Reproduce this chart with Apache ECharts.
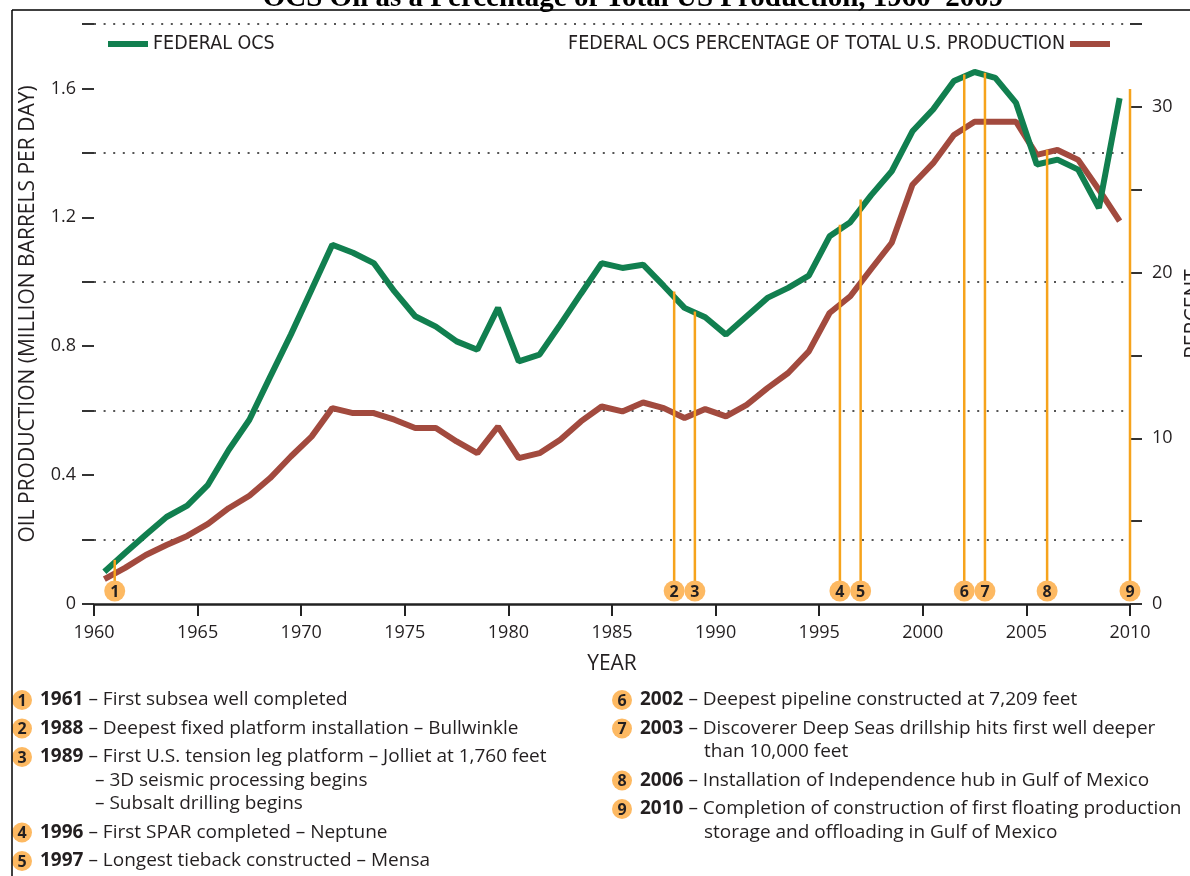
<!DOCTYPE html>
<html><head><meta charset="utf-8">
<script src="https://cdn.jsdelivr.net/npm/echarts@6/dist/echarts.min.js"></script>
<style>html,body{margin:0;padding:0;background:#fff}#c{width:1190px;height:876px}</style>
</head><body><div id="c"></div>
<script>
// ---- data ----
const years = [1960,1961,1962,1963,1964,1965,1966,1967,1968,1969,
               1970,1971,1972,1973,1974,1975,1976,1977,1978,1979,
               1980,1981,1982,1983,1984,1985,1986,1987,1988,1989,
               1990,1991,1992,1993,1994,1995,1996,1997,1998,1999,
               2000,2001,2002,2003,2004,2005,2006,2007,2008,2009];
// Federal OCS oil production, million barrels per day
const federalOcs = [0.10,0.158,0.215,0.27,0.305,0.37,0.478,0.572,0.705,0.836,
                    0.975,1.115,1.09,1.058,0.97,0.893,0.861,0.815,0.789,0.919,
                    0.753,0.774,0.867,0.963,1.058,1.043,1.053,0.987,0.919,0.89,
                    0.836,0.893,0.95,0.981,1.019,1.141,1.185,1.268,1.343,1.467,
                    1.535,1.623,1.651,1.633,1.555,1.364,1.379,1.348,1.229,1.57];
// Federal OCS percentage of total U.S. production
const ocsPercent = [1.5,2.18,2.96,3.56,4.11,4.83,5.78,6.53,7.6,8.9,
                    10.1,11.82,11.52,11.52,11.12,10.62,10.62,9.81,9.11,10.71,
                    8.8,9.1,9.91,11.02,11.92,11.62,12.16,11.82,11.22,11.76,
                    11.32,12.02,13.03,13.94,15.24,17.56,18.57,20.2,21.8,25.3,
                    26.6,28.3,29.1,29.1,29.1,27.1,27.4,26.8,25.0,23.1];
const leftTickLabels = ['0','0.4','0.8','1.2','1.6'];
const rightTickLabels = ['0','10','20','30'];
// milestones
const eventYears = [1961,1988,1989,1996,1997,2002,2003,2006,2010];
const eventTops  = [0.137,0.97,0.908,1.177,1.255,1.643,1.649,1.41,1.598];
const eventTexts = [
  ['First subsea well completed'],
  ['Deepest fixed platform installation – Bullwinkle'],
  ['First U.S. tension leg platform – Jolliet at 1,760 feet','– 3D seismic processing begins','– Subsalt drilling begins'],
  ['First SPAR completed – Neptune'],
  ['Longest tieback constructed – Mensa'],
  ['Deepest pipeline constructed at 7,209 feet'],
  ['Discoverer Deep Seas drillship hits first well deeper','than 10,000 feet'],
  ['Installation of Independence hub in Gulf of Mexico'],
  ['Completion of construction of first floating production','storage and offloading in Gulf of Mexico']
];
const titleText = 'OCS Oil as a Percentage of Total US Production, 1960–2009';
const nameGreen = 'FEDERAL OCS';
const nameBrown = 'FEDERAL OCS PERCENTAGE OF TOTAL U.S. PRODUCTION';

// ---- styles ----
const SANS = '"Open Sans", "Noto Sans", sans-serif';
const NARROW = '"Liberation Sans Narrow", "DejaVu Sans Condensed", sans-serif';
const GREEN = '#117F4F', BROWN = '#A24A3E', ORANGE = '#F6A31C', DOT = '#FDB962', INK = '#231F20';
const AFONT = 19;

const chart = echarts.init(document.getElementById('c'), null, {renderer:'canvas'});

const graphics = [
  {type:'line', shape:{x1:12,y1:10,x2:1190,y2:10}, style:{stroke:'#000', lineWidth:1.5}, z:10},
  {type:'line', shape:{x1:12,y1:10,x2:12,y2:876}, style:{stroke:'#000', lineWidth:1.5}, z:10},
  {type:'text', style:{text:titleText, x:633, y:13, textAlign:'center', textVerticalAlign:'bottom',
    font:'bold 29px "Liberation Serif", "Times New Roman", serif', fill:'#000'}, z:9}
];
const cols = [{cx:22, tx:40, cont:95, y:700}, {cx:622, tx:640, cont:704, y:700}];
eventYears.forEach((yr, i) => {
  const col = i < 5 ? cols[0] : cols[1];
  const lines = eventTexts[i];
  graphics.push({type:'circle', shape:{cx:col.cx, cy:col.y, r:10}, style:{fill:DOT}});
  graphics.push({type:'text', style:{text:String(i+1), x:col.cx, y:col.y+1, textAlign:'center', textVerticalAlign:'middle',
    font:'bold 16px ' + SANS, fill:INK}});
  graphics.push({type:'text', style:{text:'{b|' + yr + '} – ' + lines[0], x:col.tx, y:col.y, textVerticalAlign:'middle',
    font:AFONT + 'px ' + SANS, fill:INK, rich:{b:{fontWeight:'bold', fontSize:AFONT, fontFamily:SANS, fill:INK, color:INK}}}});
  for (let k = 1; k < lines.length; k++) {
    col.y += 23.5;
    graphics.push({type:'text', style:{text:lines[k], x:col.cont, y:col.y, textVerticalAlign:'middle',
      font:AFONT + 'px ' + SANS, fill:INK}});
  }
  col.y += 28.5;
});

chart.setOption({
  animation:false,
  backgroundColor:'#fff',
  grid:{left:94, right:60, top:24, bottom:272, containLabel:false, outerBoundsMode:'none'},
  legend:[
    {data:[nameGreen], left:108, top:34, padding:0, icon:'rect', itemWidth:40, itemHeight:6,
      textStyle:{fontFamily:NARROW, fontSize:19.5, color:INK}},
    {data:[nameBrown], right:80, top:34, padding:0, align:'right', icon:'rect', itemWidth:40, itemHeight:6,
      textStyle:{fontFamily:NARROW, fontSize:19.5, color:INK}}
  ],
  xAxis:{type:'value', min:1960, max:2010, interval:5,
    name:'YEAR', nameLocation:'middle', nameGap:50, nameTextStyle:{fontFamily:SANS, fontSize:21, color:INK},
    axisLine:{lineStyle:{color:'#222', width:2.5}},
    axisTick:{length:12, lineStyle:{color:'#222', width:2}},
    axisLabel:{margin:20, fontFamily:SANS, fontSize:18, color:INK, formatter:v => String(v)},
    splitLine:{show:false}},
  yAxis:[
    {type:'value', min:0, max:1.8, interval:0.2,
      name:'OIL PRODUCTION (MILLION BARRELS PER DAY)', nameLocation:'middle', nameGap:55,
      nameTextStyle:{fontFamily:SANS, fontSize:21, color:INK},
      axisLine:{show:false},
      axisTick:{show:true, length:12, lineStyle:{color:'#333', width:2}},
      axisLabel:{margin:18, fontFamily:SANS, fontSize:18, color:INK,
        formatter:v => { const s = v === 0 ? '0' : v.toFixed(1); return leftTickLabels.includes(s) ? s : ''; }},
      splitLine:{show:true, lineStyle:{color:['rgba(0,0,0,0)','#555'], type:[2,7.6], width:2.2}}},
    {type:'value', min:0, max:35, interval:5, position:'right',
      name:'PERCENT', nameLocation:'middle', nameGap:48,
      nameTextStyle:{fontFamily:SANS, fontSize:21, color:INK},
      axisLine:{show:false},
      axisTick:{show:true, length:12, lineStyle:{color:'#333', width:2}},
      axisLabel:{margin:22, fontFamily:SANS, fontSize:18, color:INK,
        formatter:v => rightTickLabels.includes(String(v)) ? String(v) : ''},
      splitLine:{show:false}}
  ],
  series:[
    {name:nameBrown, type:'line', yAxisIndex:1, showSymbol:false, z:2,
      data:years.map((y,i)=>[y+0.5, ocsPercent[i]]),
      lineStyle:{color:BROWN, width:6}, itemStyle:{color:BROWN}},
    {name:nameGreen, type:'line', yAxisIndex:0, showSymbol:false, z:3,
      data:years.map((y,i)=>[y+0.5, federalOcs[i]]),
      lineStyle:{color:GREEN, width:6}, itemStyle:{color:GREEN}},
    {type:'custom', yAxisIndex:0, z:5, clip:false, silent:true,
      data:eventYears.map((y,i)=>[y, eventTops[i], i+1]),
      encode:{x:0, y:1},
      renderItem:(params, api) => {
        const top = api.coord([api.value(0), api.value(1)]);
        const base = api.coord([api.value(0), 0]);
        const cy = base[1] - 13;
        return {type:'group', children:[
          {type:'line', shape:{x1:top[0], y1:top[1], x2:top[0], y2:cy}, style:{stroke:ORANGE, lineWidth:2.5}},
          {type:'circle', shape:{cx:base[0], cy:cy, r:10.5}, style:{fill:DOT}},
          {type:'text', style:{text:String(api.value(2)), x:base[0], y:cy+1, textAlign:'center', textVerticalAlign:'middle',
            font:'bold 16px ' + SANS, fill:INK}}
        ]};
      }}
  ],
  graphic:graphics
});
</script></body></html>
